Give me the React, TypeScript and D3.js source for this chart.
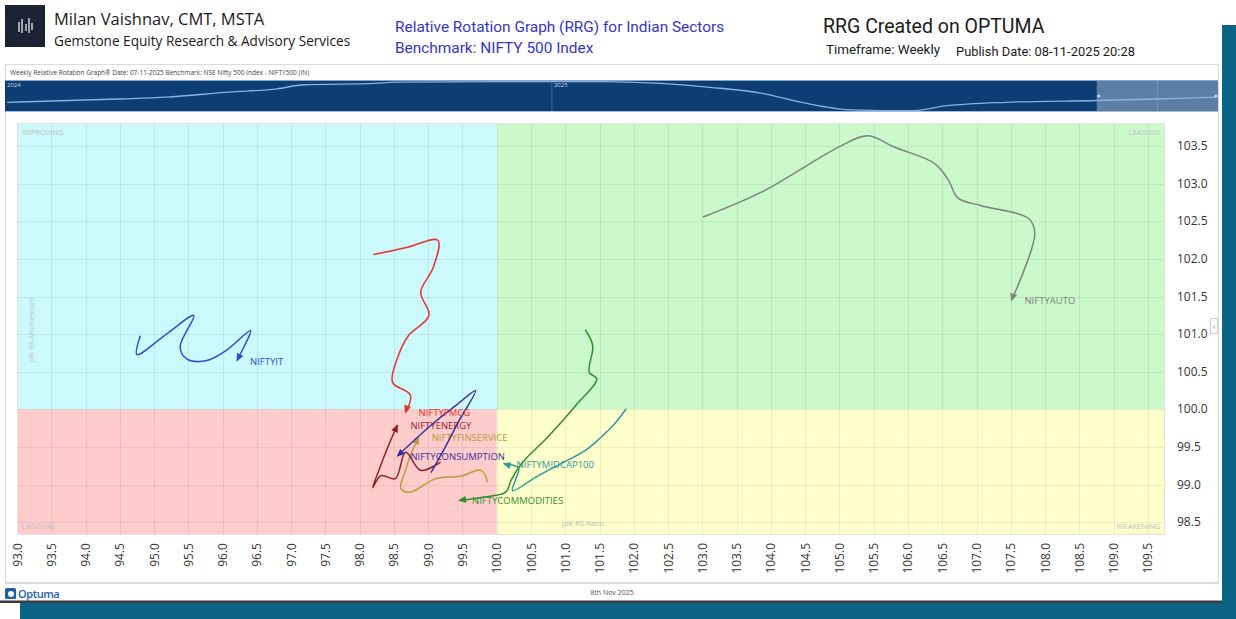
import * as d3 from "d3";

// ---- axis ticks ----
const xTicks = [
  93.0, 93.5, 94.0, 94.5, 95.0, 95.5, 96.0, 96.5, 97.0, 97.5, 98.0, 98.5, 99.0, 99.5, 100.0, 100.5, 101.0,
  101.5, 102.0, 102.5, 103.0, 103.5, 104.0, 104.5, 105.0, 105.5, 106.0, 106.5, 107.0, 107.5, 108.0, 108.5,
  109.0, 109.5,
];
const yTicks = [98.5, 99.0, 99.5, 100.0, 100.5, 101.0, 101.5, 102.0, 102.5, 103.0, 103.5];

// ---- navigator strip (benchmark overview) ----
const stripWeeks = [0.2, 10.9, 15.4, 21.4, 26, 28.6, 35.4, 37.3, 48.7, 56.9, 62.7, 67.4, 72.4, 76.3, 80.9, 86.7, 89.9, 95.7, 104.4, 110.1, 115.8];
const stripValues = [0.29, 0.4, 0.46, 0.63, 0.74, 0.875, 0.92, 0.96, 0.98, 0.98, 0.92, 0.79, 0.59, 0.28, 0.04, 0.01, 0.17, 0.29, 0.35, 0.4, 0.46];
const stripYearLabels = ["2024", "2025"];
const stripYearWeeks = [0, 52.3];

// ---- RRG tails (RS-Ratio, RS-Momentum) ----
const autoRatio = [103.01, 103.86, 105.03, 105.42, 105.8, 106.39, 106.59, 106.73, 107.07, 107.76, 107.85, 107.51];
const autoMomentum = [102.56, 102.89, 103.51, 103.64, 103.49, 103.27, 103.05, 102.81, 102.71, 102.54, 102.34, 101.45];

const itRatio = [94.8, 94.75, 95.19, 95.58, 95.38, 95.48, 95.77, 96.06, 96.41, 96.31, 96.21];
const itMomentum = [100.98, 100.73, 101.01, 101.25, 100.83, 100.67, 100.65, 100.79, 101.05, 100.83, 100.65];

const fmcgRatio = [98.2, 98.67, 99.14, 99.07, 98.89, 99.01, 98.71, 98.55, 98.48, 98.74, 98.67];
const fmcgMomentum = [102.06, 102.15, 102.25, 101.88, 101.56, 101.25, 100.98, 100.68, 100.36, 100.19, 99.96];

const energyRatio = [99.18, 98.89, 98.67, 98.52, 98.31, 98.19, 98.28, 98.42, 98.55];
const energyMomentum = [99.3, 99.19, 99.43, 99.08, 99.12, 98.96, 99.19, 99.52, 99.79];

const finRatio = [99.87, 99.77, 99.47, 99.11, 98.74, 98.6, 98.67, 98.74, 98.86];
const finMomentum = [99.03, 99.19, 99.11, 99.08, 98.9, 98.95, 99.19, 99.39, 99.63];

const consRatio = [99.04, 99.26, 99.45, 99.69, 99.4, 99.04, 98.55];
const consMomentum = [99.16, 99.52, 99.85, 100.25, 100.05, 99.79, 99.38];

const midcapRatio = [101.89, 101.7, 101.52, 101.3, 100.94, 100.57, 100.23, 100.28, 100.32, 100.1];
const midcapMomentum = [100.01, 99.79, 99.63, 99.46, 99.28, 99.1, 98.92, 99.08, 99.22, 99.28];

const commRatio = [101.29, 101.4, 101.35, 101.46, 101.15, 100.72, 100.38, 100.21, 100.13, 99.77, 99.45];
const commMomentum = [101.06, 100.85, 100.49, 100.41, 100.05, 99.61, 99.3, 99.06, 98.9, 98.83, 98.79];

const series = [
  { name: "NIFTYAUTO", color: "#7b837b", ratio: autoRatio, momentum: autoMomentum },
  { name: "NIFTYIT", color: "#2650d6", ratio: itRatio, momentum: itMomentum },
  { name: "NIFTYMIDCAP100", color: "#2f9a9a", ratio: midcapRatio, momentum: midcapMomentum },
  { name: "NIFTYCOMMODITIES", color: "#2f8f2f", ratio: commRatio, momentum: commMomentum },
  { name: "NIFTYFINSERVICE", color: "#b59c3c", ratio: finRatio, momentum: finMomentum },
  { name: "NIFTYENERGY", color: "#8e1f2a", ratio: energyRatio, momentum: energyMomentum },
  { name: "NIFTYCONSUMPTION", color: "#3a2f9e", ratio: consRatio, momentum: consMomentum },
  { name: "NIFTYFMCG", color: "#e8322c", ratio: fmcgRatio, momentum: fmcgMomentum },
];

const W = 1236;
const H = 619;
const PLOT = { left: 17, right: 1165, top: 123, bottom: 535 };
const STRIP = { left: 5, right: 1218, top: 80, bottom: 112 };
const TEAL = "#0b6485";
const FONT = "'Open Sans', 'Noto Sans', sans-serif";

export default function App() {
  const x = d3.scaleLinear().domain([93, 109.75]).range([PLOT.left, PLOT.right]);
  const y = d3.scaleLinear().domain([98.33, 103.81]).range([PLOT.bottom, PLOT.top]);
  const sx = d3.scaleLinear().domain([0, 116]).range([STRIP.left, STRIP.right]);
  const sy = d3.scaleLinear().domain([0, 1]).range([STRIP.bottom - 1, STRIP.top + 1]);

  const tail = d3
    .line<[number, number]>()
    .x((d) => x(d[0]))
    .y((d) => y(d[1]))
    .curve(d3.curveCatmullRom.alpha(0.5));

  const stripLine = d3
    .line<number>()
    .x((_, i) => sx(stripWeeks[i]))
    .y((d) => sy(d))
    .curve(d3.curveMonotoneX);

  const x100 = x(100);
  const y100 = y(100);
  const selStart = sx(104.4);

  return (
    <svg
      width={W}
      height={H}
      viewBox={`0 0 ${W} ${H}`}
      style={{ position: "absolute", left: 0, top: 0, background: "#fff" }}
      fontFamily={FONT}
    >
      {/* teal shadow frame */}
      <rect x={1222} y={25} width={14} height={H - 25} fill={TEAL} />
      <rect x={20} y={603} width={W - 20} height={16} fill={TEAL} />
      <rect x={0} y={0} width={1222} height={603} fill="#fff" />
      <rect x={0} y={600.5} width={1222} height={2.5} fill="#3a3a3a" />

      {/* header */}
      <rect x={5} y={5} width={40} height={42} fill="#1c2335" />
      <g stroke="#e8ecf4" strokeWidth={1.3}>
        <line x1={19} y1={22} x2={19} y2={32} />
        <line x1={22} y1={19} x2={22} y2={33} />
        <line x1={26} y1={24} x2={26} y2={31} />
        <line x1={29} y1={18} x2={29} y2={33} />
        <line x1={32} y1={23} x2={32} y2={30} />
      </g>
      <text x={54} y={25} fontSize={16.5} fill="#1a1a1a">
        Milan Vaishnav, CMT, MSTA
      </text>
      <text x={54} y={46} fontSize={13.6} fill="#1a1a1a">
        Gemstone Equity Research &amp; Advisory Services
      </text>
      <text x={395} y={32} fontSize={15.4} fill="#3535c8" fontFamily="Roboto, sans-serif">
        Relative Rotation Graph (RRG) for Indian Sectors
      </text>
      <text x={395} y={53} fontSize={15.4} fill="#3535c8" fontFamily="Roboto, sans-serif">
        Benchmark: NIFTY 500 Index
      </text>
      <text x={823} y={33} fontSize={19.5} fill="#1a1a1a" fontFamily="Roboto, sans-serif">
        RRG Created on OPTUMA
      </text>
      <text x={826} y={54} fontSize={13.4} fill="#1a1a1a" fontFamily="Roboto, sans-serif">
        Timeframe: Weekly
      </text>
      <text x={956} y={56} fontSize={12.9} fill="#1a1a1a" fontFamily="Roboto, sans-serif">
        Publish Date: 08-11-2025 20:28
      </text>

      {/* chart panel */}
      <rect x={5.5} y={64.5} width={1213} height={518} fill="#fff" stroke="#dcdcdc" />
      <text x={10} y={75} fontSize={6.5} fill="#444">
        Weekly Relative Rotation Graph®   Date: 07-11-2025   Benchmark: NSE Nifty 500 Index - NIFTY500 (IN)
      </text>

      {/* navigator strip */}
      <rect x={STRIP.left} y={STRIP.top} width={STRIP.right - STRIP.left} height={STRIP.bottom - STRIP.top} fill="#0c3d73" />
      <rect x={selStart} y={STRIP.top} width={STRIP.right - selStart} height={STRIP.bottom - STRIP.top} fill="#5b7ea6" />
      {stripYearWeeks.map((w, i) => (
        <g key={stripYearLabels[i]}>
          {i > 0 && <line x1={sx(w)} x2={sx(w)} y1={STRIP.top} y2={STRIP.bottom} stroke="#3f6a9c" />}
          <text x={sx(w) + 2} y={STRIP.top + 7} fontSize={6} fill="#c8d8ee">
            {stripYearLabels[i]}
          </text>
        </g>
      ))}
      <line x1={sx(110.2)} x2={sx(110.2)} y1={STRIP.top} y2={STRIP.bottom} stroke="#8aa6c8" strokeWidth={0.6} />
      <path d={stripLine(stripValues) ?? ""} fill="none" stroke="#86b3e3" strokeWidth={1.3} />
      <line x1={STRIP.left} x2={STRIP.right} y1={STRIP.top + 0.5} y2={STRIP.top + 0.5} stroke="#7fa8d6" />
      <line x1={STRIP.left} x2={STRIP.right} y1={STRIP.bottom - 0.5} y2={STRIP.bottom - 0.5} stroke="#9bbbe0" />
      <circle cx={selStart + 2} cy={96} r={1.6} fill="#c8d8ee" />
      <circle cx={STRIP.right - 2} cy={96} r={1.6} fill="#c8d8ee" />

      {/* quadrants */}
      <rect x={PLOT.left} y={PLOT.top} width={x100 - PLOT.left} height={y100 - PLOT.top} fill="#ccf9fc" />
      <rect x={x100} y={PLOT.top} width={PLOT.right - x100} height={y100 - PLOT.top} fill="#ccf9cc" />
      <rect x={PLOT.left} y={y100} width={x100 - PLOT.left} height={PLOT.bottom - y100} fill="#ffcccc" />
      <rect x={x100} y={y100} width={PLOT.right - x100} height={PLOT.bottom - y100} fill="#ffffcc" />

      {/* grid */}
      <g stroke="#000" strokeOpacity={0.07}>
        {xTicks.map((v) => (
          <line key={`gx${v}`} x1={Math.round(x(v)) + 0.5} x2={Math.round(x(v)) + 0.5} y1={PLOT.top} y2={PLOT.bottom} />
        ))}
        {yTicks.map((v) => (
          <line key={`gy${v}`} x1={PLOT.left} x2={PLOT.right} y1={Math.round(y(v)) + 0.5} y2={Math.round(y(v)) + 0.5} />
        ))}
      </g>
      <rect
        x={PLOT.left + 0.5}
        y={PLOT.top + 0.5}
        width={PLOT.right - PLOT.left - 1}
        height={PLOT.bottom - PLOT.top - 1}
        fill="none"
        stroke="#e2e2e2"
      />

      {/* quadrant labels and axis titles */}
      <g fontSize={7.5} fill="#b9c2c2">
        <text x={PLOT.left + 5} y={PLOT.top + 12}>IMPROVING</text>
        <text x={PLOT.right - 5} y={PLOT.top + 12} textAnchor="end">LEADING</text>
        <text x={PLOT.left + 5} y={PLOT.bottom - 6}>LAGGING</text>
        <text x={PLOT.right - 5} y={PLOT.bottom - 6} textAnchor="end">WEAKENING</text>
        <text x={583} y={PLOT.bottom - 9} textAnchor="middle">JdK RS-Ratio</text>
        <text transform={`translate(${PLOT.left + 17},330) rotate(-90)`} textAnchor="middle">
          JdK RS-Momentum
        </text>
      </g>

      {/* tails */}
      {series.map((s) => {
        const pts = s.ratio.map((r, i) => [r, s.momentum[i]] as [number, number]);
        const n = pts.length;
        const ex = x(pts[n - 1][0]);
        const ey = y(pts[n - 1][1]);
        const px = x(pts[n - 2][0]);
        const py = y(pts[n - 2][1]);
        const ang = (Math.atan2(ey - py, ex - px) * 180) / Math.PI;
        return (
          <g key={s.name}>
            <path d={tail(pts) ?? ""} fill="none" stroke={s.color} strokeWidth={1.5} />
            <path d="M1,0 L-7,-3.5 L-7,3.5 Z" fill={s.color} transform={`translate(${ex},${ey}) rotate(${ang})`} />
            <text x={ex + 13} y={ey + 4} fontSize={9.5} fill={s.color}>
              {s.name}
            </text>
          </g>
        );
      })}

      {/* right axis */}
      <g fontSize={12} fill="#333">
        {yTicks.map((v) => (
          <text key={`yl${v}`} x={1177} y={y(v) + 4}>
            {v.toFixed(1)}
          </text>
        ))}
      </g>
      <rect x={1210.5} y={318.5} width={7} height={15} fill="#fafafa" stroke="#cfcfcf" />
      <text x={1214} y={329} fontSize={8} fill="#777" textAnchor="middle">
        ‹
      </text>

      {/* bottom axis */}
      <g fontSize={12} fill="#333">
        {xTicks.map((v) => (
          <text key={`xl${v}`} transform={`translate(${x(v) + 4.5},543) rotate(-90)`} textAnchor="end">
            {v.toFixed(1)}
          </text>
        ))}
      </g>

      {/* footer */}
      <line x1={5} x2={1219} y1={583.5} y2={583.5} stroke="#dcdcdc" />
      <rect x={5} y={588} width={11} height={11} rx={1.5} fill="#1d5fae" />
      <circle cx={11} cy={594} r={3} fill="#fff" />
      <text x={18} y={598} fontSize={11} fill="#1d5fae" fontWeight={600} letterSpacing={-0.4}>
        Optuma
      </text>
      <text x={612} y={595} fontSize={7} fill="#555" textAnchor="middle">
        8th Nov 2025
      </text>
    </svg>
  );
}
